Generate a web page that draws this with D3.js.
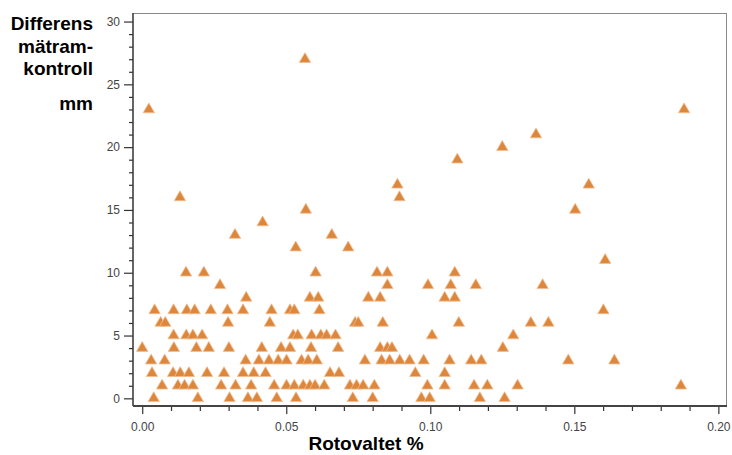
<!DOCTYPE html>
<html>
<head>
<meta charset="utf-8">
<script src="https://cdn.jsdelivr.net/npm/d3@7"></script>
<style>
  body { margin: 0; background: #fff; }
  svg { display: block; }
</style>
</head>
<body>
<div id="chart"></div>
<script>
// Rotovaltet % for each measured point, grouped by the difference (mm)
const rotovaltet0 = [0.004, 0.0193, 0.0303, 0.0367, 0.0398, 0.0467, 0.0534, 0.0731, 0.080, 0.0969, 0.0998, 0.1172, 0.1258];
const rotovaltet1 = [0.0069, 0.0124, 0.0147, 0.0176, 0.0274, 0.0324, 0.0378, 0.0458, 0.0501, 0.0528, 0.0559, 0.0582,
  0.060, 0.0632, 0.0721, 0.0744, 0.0767, 0.0806, 0.099, 0.105, 0.1152, 0.1198, 0.1303, 0.187];
const rotovaltet2 = [0.0034, 0.0107, 0.0132, 0.0162, 0.0225, 0.0284, 0.035, 0.0387, 0.0428, 0.0652, 0.0683, 0.0948, 0.105];
const rotovaltet3 = [0.0031, 0.0078, 0.0359, 0.0405, 0.044, 0.0472, 0.0501, 0.0553, 0.0576, 0.0606, 0.0773, 0.0831,
  0.0859, 0.0894, 0.0928, 0.0977, 0.1067, 0.1142, 0.1177, 0.1479, 0.1639];
const rotovaltet4 = [0.0, 0.011, 0.0188, 0.0231, 0.0301, 0.0415, 0.0482, 0.0513, 0.0586, 0.068, 0.0826, 0.0851, 0.0867, 0.1252];
const rotovaltet5 = [0.0109, 0.0153, 0.0176, 0.0208, 0.0524, 0.054, 0.0588, 0.062, 0.064, 0.0671, 0.1006, 0.1288];
const rotovaltet6 = [0.0064, 0.008, 0.0298, 0.0443, 0.0739, 0.075, 0.0835, 0.1099, 0.1349, 0.141];
const rotovaltet7 = [0.0043, 0.0109, 0.0155, 0.0182, 0.0238, 0.0296, 0.035, 0.0449, 0.0513, 0.0528, 0.0615, 0.1601];
const rotovaltet8 = [0.0361, 0.0582, 0.0611, 0.0785, 0.0826, 0.105, 0.1085];
const rotovaltet9 = [0.027, 0.0851, 0.0992, 0.1071, 0.1158, 0.139];
const rotovaltet10 = [0.0152, 0.0214, 0.0602, 0.0815, 0.0851, 0.1085];
const rotovaltetHigh = [0.1607, 0.0533, 0.0715, 0.0322, 0.0658, 0.0418, 0.0568, 0.1503, 0.0131, 0.0893,
  0.0886, 0.155, 0.1094, 0.125, 0.1367, 0.0023, 0.1881, 0.0565];
const differensHigh = [11, 12, 12, 13, 13, 14, 15, 15, 16, 16, 17, 17, 19, 20, 21, 23, 23, 27];

const lowLevels = [0, 1, 2, 3, 4, 5, 6, 7, 8, 9, 10];
const lowGroups = [rotovaltet0, rotovaltet1, rotovaltet2, rotovaltet3, rotovaltet4, rotovaltet5,
  rotovaltet6, rotovaltet7, rotovaltet8, rotovaltet9, rotovaltet10];

const xTicks = [0, 0.05, 0.10, 0.15, 0.20];
const xMinorTicks = [0.01, 0.02, 0.03, 0.04, 0.06, 0.07, 0.08, 0.09, 0.11, 0.12, 0.13, 0.14, 0.16, 0.17, 0.18, 0.19];
const yTicks = [0, 5, 10, 15, 20, 25, 30];
const yMinorTicks = d3.range(0, 31).filter(v => v % 5 !== 0);

const yTitleLines = ['Differens', 'mätram-', 'kontroll', 'mm'];
const xTitle = 'Rotovaltet %';

const points = lowLevels.flatMap((level, i) => lowGroups[i].map(x => ({ x, y: level })))
  .concat(rotovaltetHigh.map((x, i) => ({ x, y: differensHigh[i] })));

const width = 732;
const height = 455;
const plot = { left: 133, right: 727, top: 13, bottom: 406 };
const font = '"Liberation Sans", Arial, sans-serif';

const svg = d3.select('#chart')
  .append('svg')
  .attr('width', width)
  .attr('height', height);

const xScale = d3.scaleLinear()
  .domain([-0.0032, 0.2030])
  .range([plot.left, plot.right]);

const yScale = d3.scaleLinear()
  .domain([-0.61, 30.68])
  .range([plot.bottom, plot.top]);

// frame: light top/right, dark axes left/bottom
svg.append('line')
  .attr('x1', plot.left).attr('x2', plot.right)
  .attr('y1', plot.top + 0.5).attr('y2', plot.top + 0.5)
  .attr('stroke', '#8a8a8a');
svg.append('line')
  .attr('x1', plot.right - 0.5).attr('x2', plot.right - 0.5)
  .attr('y1', plot.top).attr('y2', plot.bottom)
  .attr('stroke', '#8a8a8a');

function styleAxis(g) {
  g.select('.domain').remove();
  g.selectAll('.tick line').attr('stroke', '#333').attr('stroke-width', 1.2);
  g.selectAll('.tick text')
    .attr('fill', '#444')
    .style('font-family', font)
    .style('font-size', '12px');
}

svg.append('g')
  .attr('transform', `translate(${plot.left},0)`)
  .call(d3.axisLeft(yScale).tickValues(yMinorTicks).tickSize(4).tickFormat(''))
  .call(styleAxis);

svg.append('g')
  .attr('transform', `translate(${plot.left},0)`)
  .call(d3.axisLeft(yScale).tickValues(yTicks).tickSize(9).tickPadding(4).tickFormat(d3.format('d')))
  .call(styleAxis);

svg.append('g')
  .attr('transform', `translate(0,${plot.bottom})`)
  .call(d3.axisBottom(xScale).tickValues(xMinorTicks).tickSize(5).tickFormat(''))
  .call(styleAxis);

svg.append('g')
  .attr('transform', `translate(0,${plot.bottom})`)
  .call(d3.axisBottom(xScale).tickValues(xTicks).tickSize(8).tickPadding(8).tickFormat(d3.format('.2f')))
  .call(styleAxis);

svg.append('line')
  .attr('x1', plot.left).attr('x2', plot.left)
  .attr('y1', plot.top).attr('y2', plot.bottom)
  .attr('stroke', '#333').attr('stroke-width', 1.5);
svg.append('line')
  .attr('x1', plot.left).attr('x2', plot.right)
  .attr('y1', plot.bottom).attr('y2', plot.bottom)
  .attr('stroke', '#444').attr('stroke-width', 2.2);

// markers
const triangle = d3.symbol().type(d3.symbolTriangle).size(56);
svg.append('g')
  .selectAll('path')
  .data(points)
  .join('path')
  .attr('d', triangle)
  .attr('transform', d => `translate(${xScale(d.x)},${yScale(d.y)})`)
  .attr('fill', '#dc873c')
  .attr('stroke', '#f1bd92')
  .attr('stroke-width', 0.8);

// titles
const yTitleBaselines = [30, 53, 75, 110];
svg.append('g')
  .selectAll('text')
  .data(yTitleLines)
  .join('text')
  .attr('x', 93)
  .attr('y', (d, i) => yTitleBaselines[i])
  .attr('text-anchor', 'end')
  .style('font-family', font)
  .style('font-weight', 'bold')
  .style('font-size', '19px')
  .text(d => d);

svg.append('text')
  .attr('x', 366)
  .attr('y', 450)
  .attr('text-anchor', 'middle')
  .style('font-family', font)
  .style('font-weight', 'bold')
  .style('font-size', '19px')
  .text(xTitle);
</script>
</body>
</html>
